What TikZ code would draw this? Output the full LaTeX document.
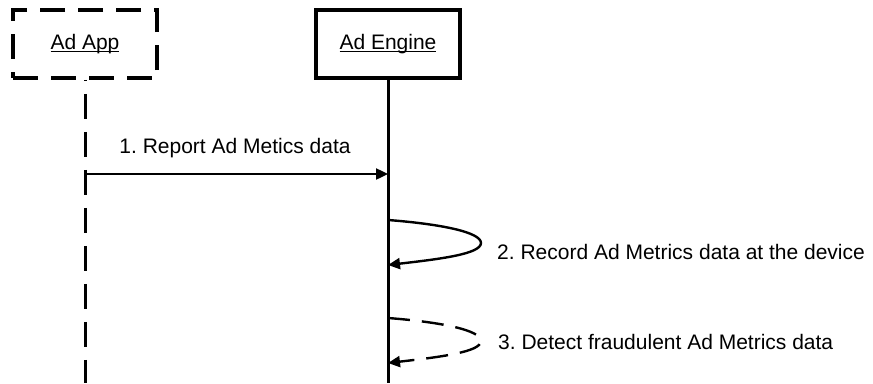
\documentclass[tikz,border=0pt]{standalone}
\usepackage{fontspec}
\setmainfont{Liberation Sans}
\usetikzlibrary{arrows.meta}
\newcommand\myul[1]{\setbox0\hbox{#1}\rlap{\rule[-3pt]{\wd0}{1.5pt}}\box0}
\begin{document}
\frenchspacing
\begin{tikzpicture}[x=1pt,y=-1pt,
  every node/.style={font=\fontsize{21}{25}\selectfont},
  objbox/.style={draw,line width=3.5pt,minimum width=144pt,minimum height=68pt,inner sep=0pt},
  dashpat/.style={dash pattern=on 25pt off 13pt},
  life/.style={line width=3pt},
  msg/.style={line width=2.4pt,-{Triangle[length=12pt,width=11pt]}},
  lbl/.style={anchor=base west,inner sep=0pt}]
\useasboundingbox (0,0) rectangle (873,383);
\node[objbox,dashpat] (app) at (85,44) {\myul{Ad App}};
\node[objbox] (eng) at (388,44) {\myul{Ad Engine}};
\coordinate (append) at (app.south |- 0,383);
\coordinate (engend) at (eng.south |- 0,383);
\draw[life,dashpat,dash phase=-14pt] (app.south) -- (append);
\draw[life] (eng.south) -- (engend);
% message 1
\coordinate (m1s) at (app.south |- 0,174);
\coordinate (m1e) at (eng.south |- 0,174);
\draw[msg] (m1s) -- (m1e);
\node[anchor=base,inner sep=0pt] (l1) at (235,153) {1. Report Ad Metics data};
% self message 2
\coordinate (m2s) at (eng.south |- 0,220);
\coordinate (m2e) at (eng.south |- 0,265);
\draw[msg] (m2s) .. controls (440,224) and (481,232) .. (481,243)
  .. controls (481,254) and (440,259) .. (m2e);
\node[lbl] (l2) at (497,259) {2. Record Ad Metrics data at the device};
% self message 3
\coordinate (m3s) at (eng.south |- 0,318);
\coordinate (m3e) at (eng.south |- 0,363);
\draw[msg,dash pattern=on 22pt off 12pt] (m3s) .. controls (440,322) and (481,330) .. (481,341)
  .. controls (481,352) and (440,357) .. (m3e);
\node[lbl] (l3) at (498,349) {3. Detect fraudulent Ad Metrics data};
\end{tikzpicture}
\end{document}
